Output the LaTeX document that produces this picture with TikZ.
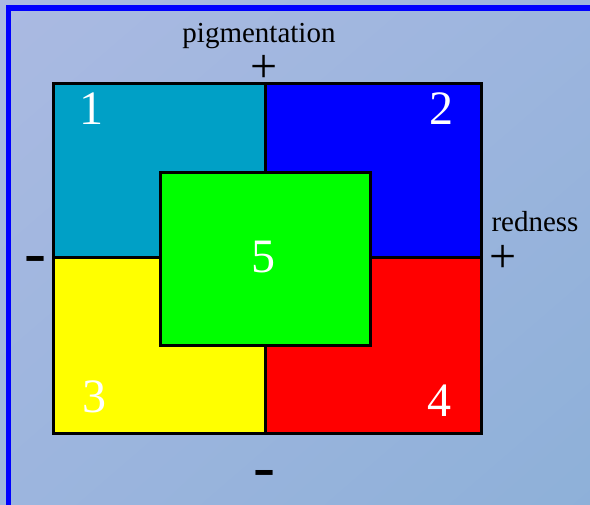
\documentclass[tikz,border=0pt]{standalone}
\usepackage{fontspec}
\setmainfont{Liberation Serif}
\usetikzlibrary{shadings}
\definecolor{bgA}{RGB}{171,186,226}
\definecolor{bgB}{RGB}{156,181,222}
\definecolor{bgC}{RGB}{141,176,216}
\definecolor{cyanq}{RGB}{0,160,198}
\definecolor{blueq}{RGB}{0,0,255}
\definecolor{yellowq}{RGB}{255,255,0}
\definecolor{redq}{RGB}{255,0,0}
\definecolor{greenq}{RGB}{0,255,0}
\tikzset{
  quad/.style={draw=black, line width=3pt},
  digit/.style={text=white, inner sep=0pt, anchor=base, font=\fontsize{48}{48}\selectfont},
  axislbl/.style={text=black, inner sep=0pt, anchor=base, font=\fontsize{29}{29}\selectfont},
  plussign/.style={text=black, inner sep=0pt, font=\fontsize{48}{48}\selectfont},
  minussign/.style={text=black, inner sep=0pt, anchor=base, font=\fontsize{66}{66}\selectfont},
}
\begin{document}
\begin{tikzpicture}[x=1pt,y=-1pt]
\useasboundingbox (0,0) rectangle (590,505);
\clip (0,0) rectangle (590,505);
\shade[upper left=bgA, upper right=bgB, lower left=bgB, lower right=bgC] (-10,-10) rectangle (610,525);
\draw[blueq, line width=5.5pt, line cap=rect] (8.5,520) -- (8.5,8) -- (590,8);
% quadrants
\filldraw[quad, fill=cyanq] (53,84) rectangle (265,258);
\filldraw[quad, fill=blueq] (265,84) rectangle (481,258);
\filldraw[quad, fill=yellowq] (53,258) rectangle (265,434);
\filldraw[quad, fill=redq] (265,258) rectangle (481,434);
\filldraw[quad, fill=greenq] (160,173) rectangle (370.5,346);
% digits
\node[digit] (n1) at (91,125) {1};
\node[digit] (n2) at (441,125) {2};
\node[digit] (n3) at (94,413) {3};
\node[digit] (n4) at (439,417) {4};
\node[digit] (n5) at (263.5,272.5) {5};
% axis labels
\node[axislbl] (pig) at (259,43) {pigmentation};
\node[plussign] (ptop) at (264.5,68.5) {+};
\node[axislbl] (red) at (535,232) {redness};
\node[plussign] (pright) at (503.5,258.5) {+};
\node[minussign] (mleft) at (35.5,274.5) {-};
\node[minussign] (mbottom) at (264.5,488.5) {-};
\end{tikzpicture}
\end{document}
